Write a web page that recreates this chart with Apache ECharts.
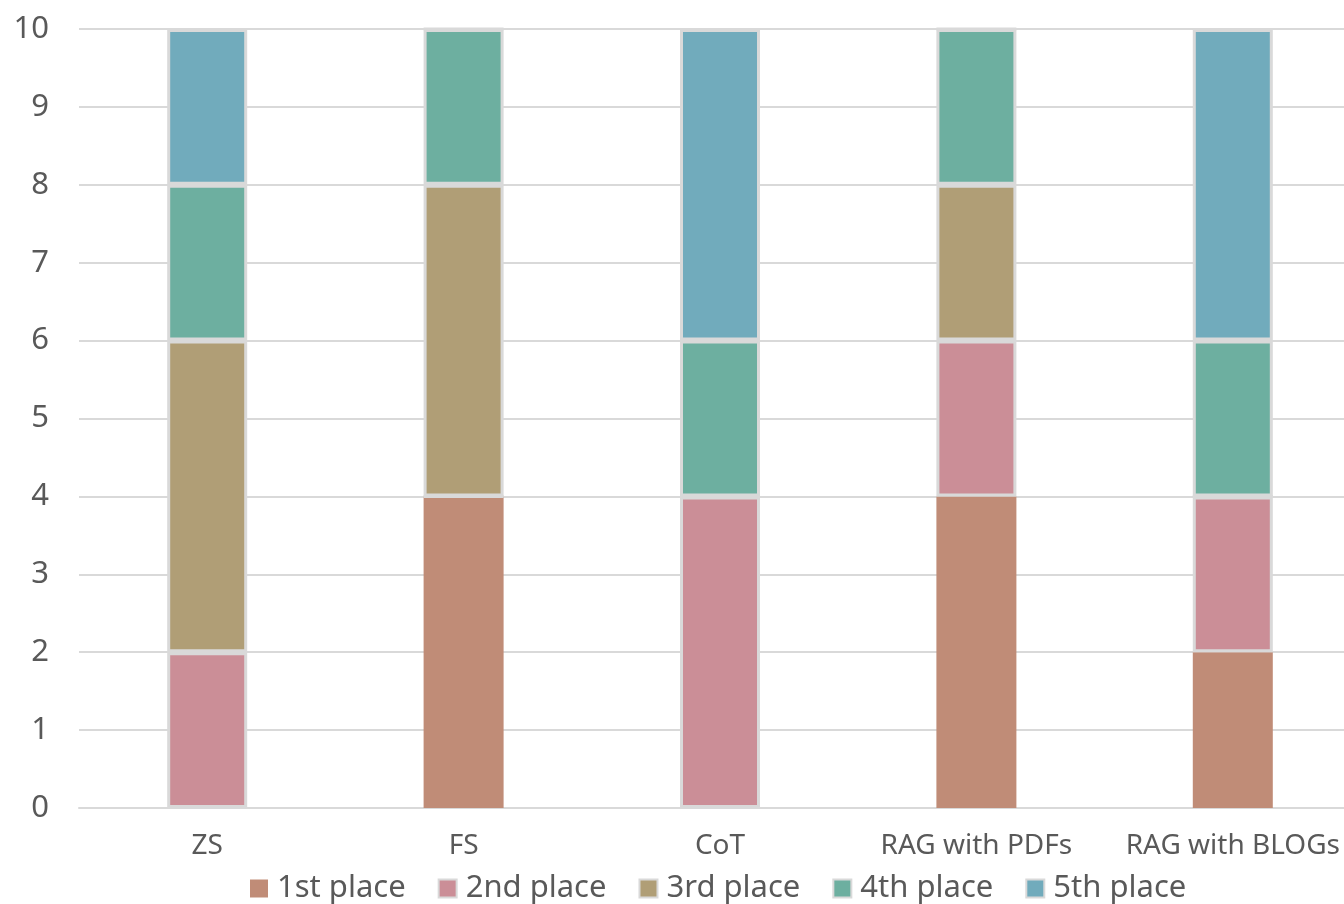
<!DOCTYPE html>
<html>
<head>
<meta charset="utf-8">
<script src="https://cdn.jsdelivr.net/npm/echarts@6/dist/echarts.min.js"></script>
<style>
  html, body { margin: 0; padding: 0; background: #fff; }
  #chart { width: 1344px; height: 904px; }
</style>
</head>
<body>
<div id="chart"></div>
<script>
const categories = ['ZS', 'FS', 'CoT', 'RAG with PDFs', 'RAG with BLOGs']
const seriesNames = ['1st place', '2nd place', '3rd place', '4th place', '5th place']
const first = [0, 4, 0, 4, 2]
const second = [2, 0, 4, 2, 2]
const third = [4, 4, 0, 2, 0]
const fourth = [2, 2, 2, 2, 2]
const fifth = [2, 0, 4, 0, 4]
const colors = ['#C08C77', '#CB8E97', '#B09E76', '#6DAFA0', '#71ABBC']

const values = [first, second, third, fourth, fifth]
const font = '"Noto Sans", sans-serif'
const grey = '#D9D9D9'

const series = values.map((data, i) => ({
  name: seriesNames[i],
  type: 'bar',
  stack: 'total',
  barWidth: 80,
  data: data,
  itemStyle: {
    color: colors[i],
    borderColor: grey,
    borderWidth: i === 0 ? 0 : 3
  }
}))

const chart = echarts.init(document.getElementById('chart'))
chart.setOption({
  animation: false,
  textStyle: { fontFamily: font },
  grid: { left: 79, width: 1282, top: 29, bottom: 96, containLabel: false, outerBoundsMode: 'none' },
  legend: {
    data: seriesNames,
    left: 245,
    top: 868,
    itemWidth: 18,
    itemHeight: 18,
    itemGap: 32,
    icon: 'rect',
    textStyle: { fontSize: 31, color: '#595959', fontFamily: font, padding: [0, 0, 0, 4] }
  },
  xAxis: {
    type: 'category',
    data: categories,
    axisTick: { show: false },
    axisLine: { lineStyle: { color: grey, width: 2 } },
    axisLabel: { interval: 0, fontSize: 28, color: '#595959', margin: 24, fontFamily: font }
  },
  yAxis: {
    type: 'value',
    min: 0,
    max: 10,
    interval: 1,
    axisLine: { show: false },
    axisTick: { show: false },
    splitLine: { lineStyle: { color: grey, width: 2 } },
    axisLabel: { fontSize: 31, color: '#595959', margin: 30, fontFamily: font }
  },
  series: series
})
</script>
</body>
</html>
